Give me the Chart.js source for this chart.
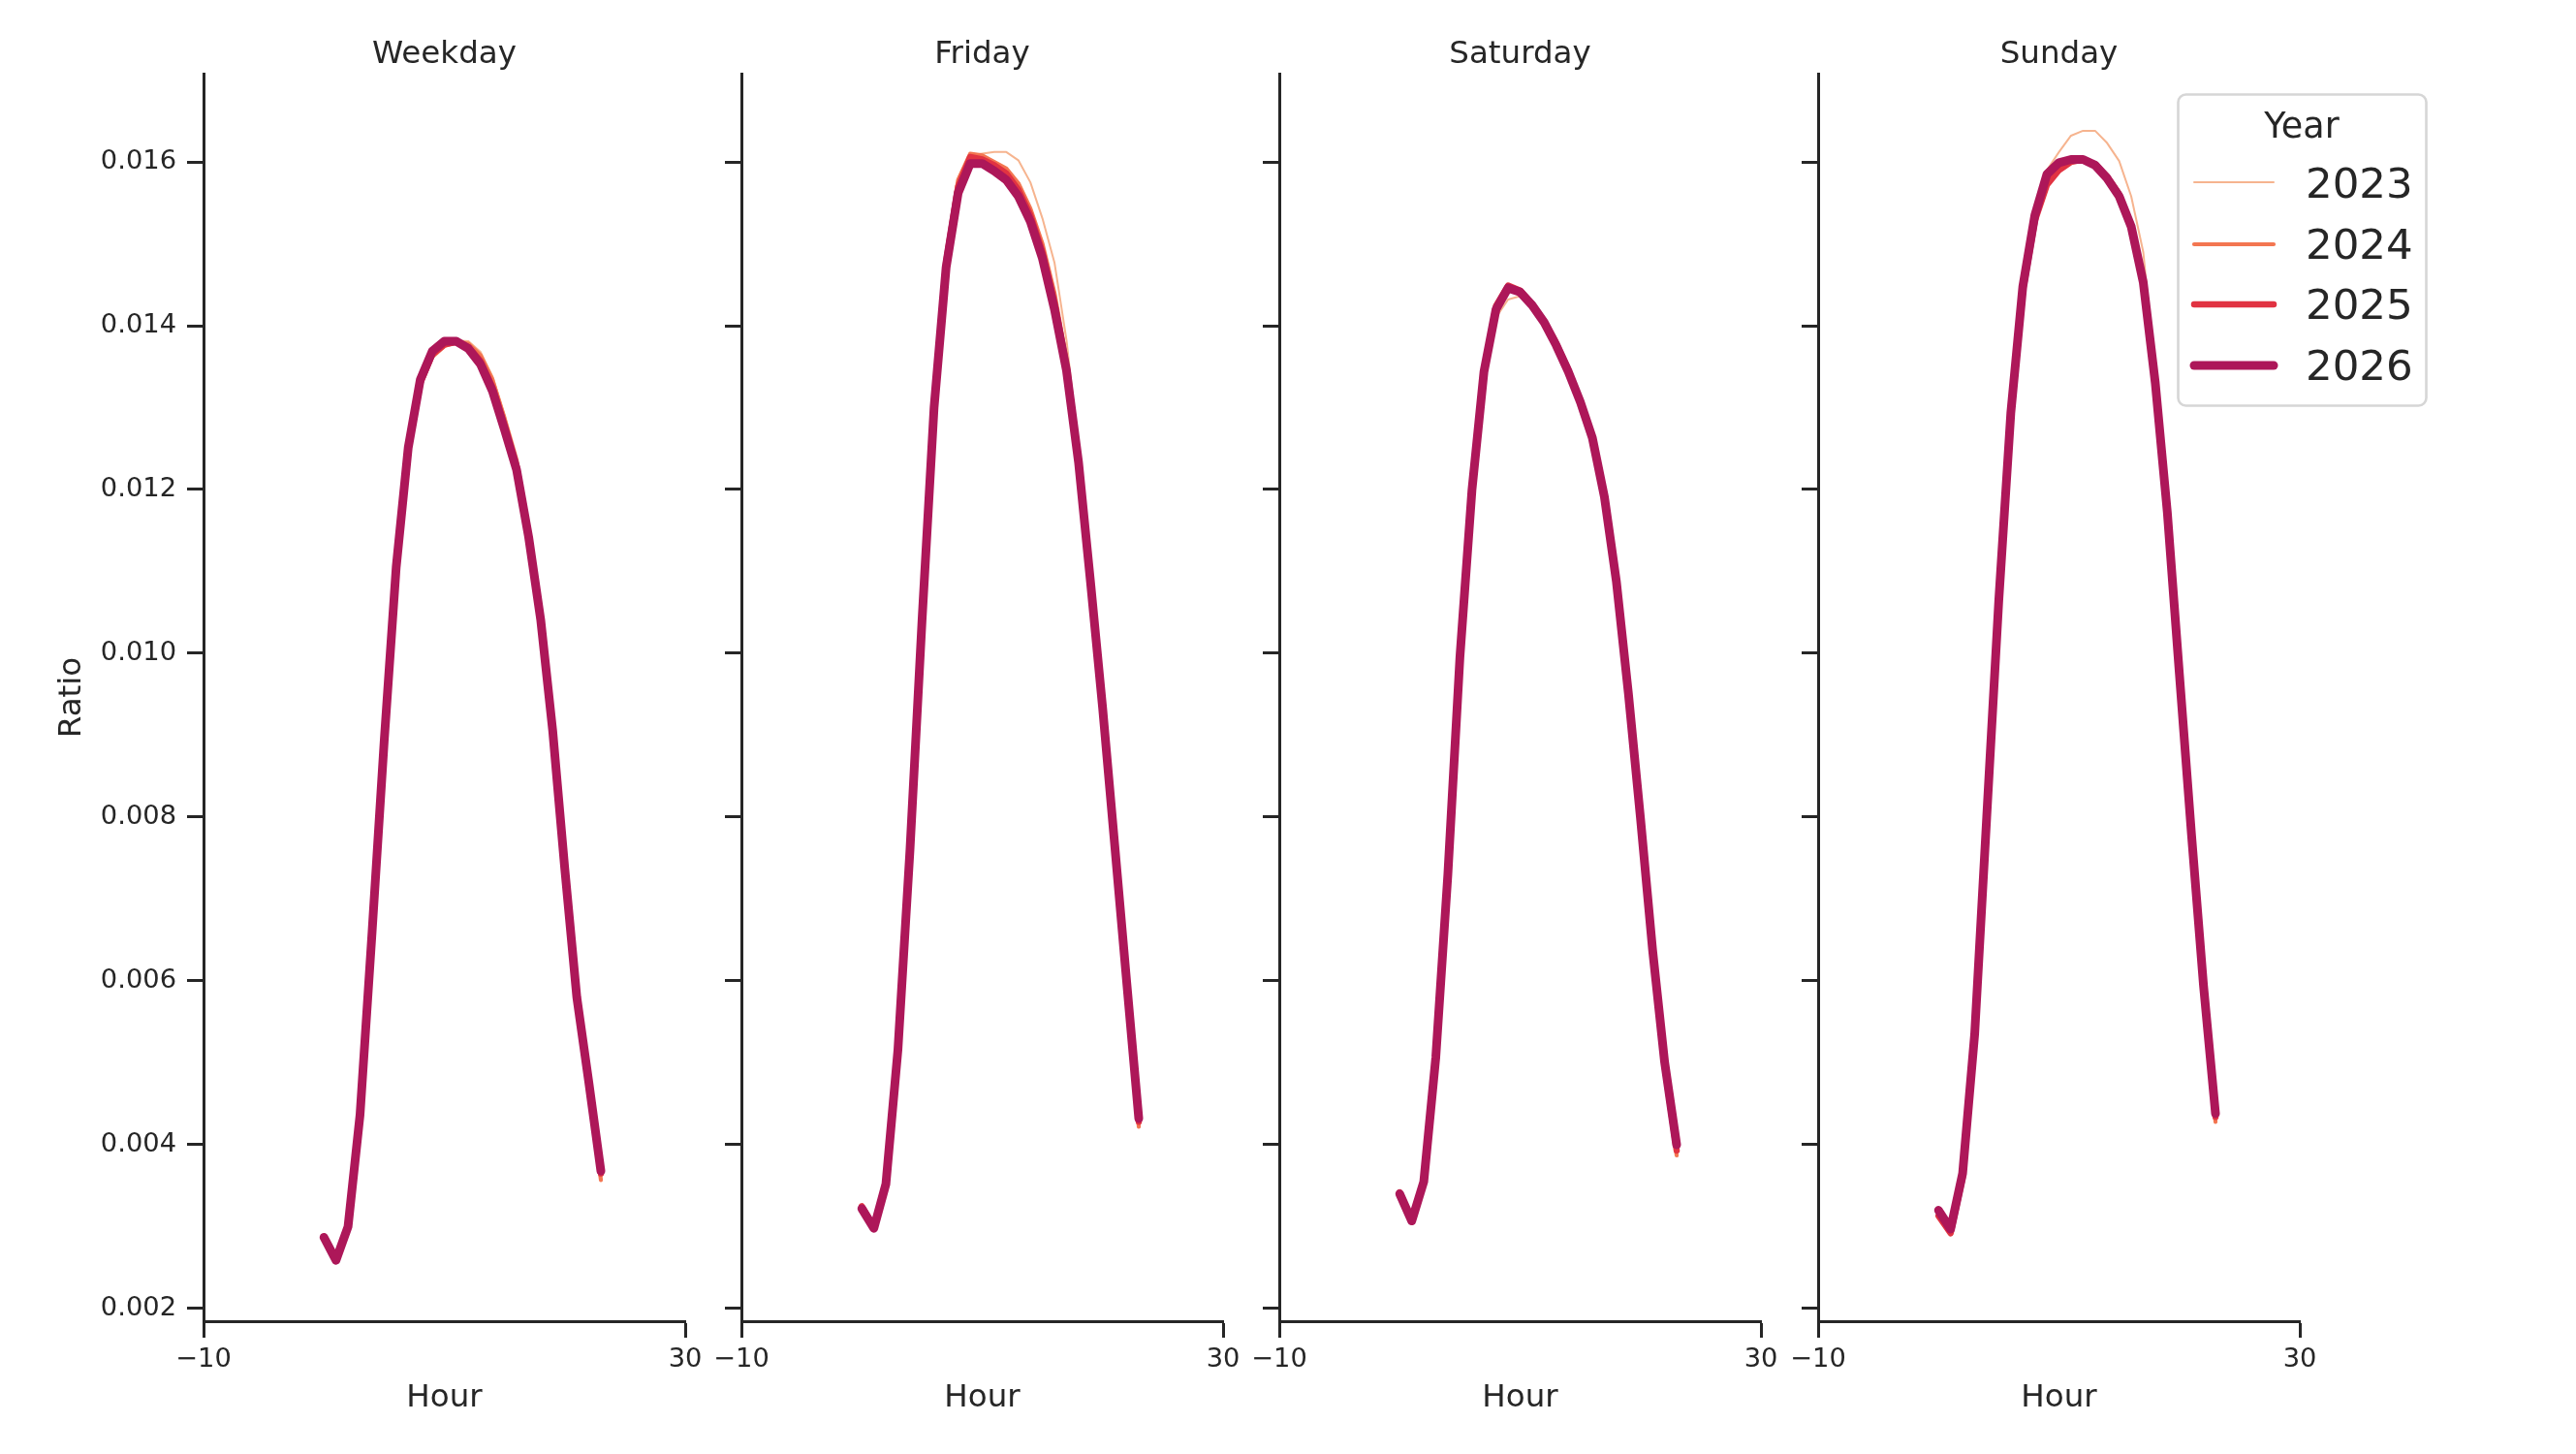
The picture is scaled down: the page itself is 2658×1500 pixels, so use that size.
<!DOCTYPE html>
<html>
<head>
<meta charset="utf-8">
<script src="https://cdn.jsdelivr.net/npm/chart.js@4.4.1/dist/chart.umd.min.js"></script>
<style>
html,body{margin:0;padding:0;background:#ffffff;}
#wrap{position:relative;width:2658px;height:1500px;overflow:hidden;background:#ffffff;}
#wrap canvas{position:absolute;left:0;top:0;}
</style>
</head>
<body>
<div id="wrap">
<canvas id="c0" width="2658" height="1500"></canvas>
<canvas id="c1" width="2658" height="1500"></canvas>
<canvas id="c2" width="2658" height="1500"></canvas>
<canvas id="c3" width="2658" height="1500"></canvas>
</div>
<script>
// ---------------- data ----------------
const hours = [0,1,2,3,4,5,6,7,8,9,10,11,12,13,14,15,16,17,18,19,20,21,22,23];
const years = ['2023','2024','2025','2026'];
const panelTitles = ['Weekday','Friday','Saturday','Sunday'];
const xTickValues = [-10, 30];
const yTickValues = [0.002,0.004,0.006,0.008,0.010,0.012,0.014,0.016];

const weekday2023 = [0.00288,0.00259,0.00301,0.00439,0.00662,0.00894,0.01104,0.01249,0.01329,0.01364,0.01377,0.01382,0.01381,0.01368,0.01338,0.01290,0.01238,0.01152,0.01046,0.00906,0.00736,0.00578,0.00472,0.00362];
const weekday2024 = [0.00289,0.00260,0.00302,0.00440,0.00663,0.00895,0.01104,0.01248,0.01328,0.01362,0.01375,0.01380,0.01378,0.01364,0.01334,0.01287,0.01236,0.01150,0.01045,0.00906,0.00735,0.00577,0.00470,0.00357];
const weekday2025 = [0.00288,0.00260,0.00301,0.00438,0.00661,0.00893,0.01104,0.01249,0.01330,0.01365,0.01377,0.01380,0.01374,0.01357,0.01325,0.01278,0.01228,0.01145,0.01042,0.00905,0.00736,0.00579,0.00474,0.00365];
const weekday2026 = [0.00287,0.00259,0.00300,0.00437,0.00660,0.00892,0.01105,0.01251,0.01334,0.01369,0.01381,0.01381,0.01372,0.01353,0.01320,0.01273,0.01224,0.01142,0.01041,0.00905,0.00737,0.00580,0.00476,0.00368];

const friday2023 = [0.00323,0.00298,0.00353,0.00520,0.00766,0.01048,0.01306,0.01478,0.01572,0.01608,0.01610,0.01612,0.01612,0.01602,0.01575,0.01531,0.01477,0.01382,0.01250,0.01092,0.00935,0.00764,0.00595,0.00428];
const friday2024 = [0.00324,0.00299,0.00354,0.00522,0.00768,0.01050,0.01310,0.01484,0.01578,0.01610,0.01608,0.01600,0.01592,0.01574,0.01543,0.01500,0.01440,0.01358,0.01240,0.01090,0.00932,0.00762,0.00592,0.00422];
const friday2025 = [0.00325,0.00300,0.00355,0.00520,0.00765,0.01045,0.01305,0.01478,0.01570,0.01606,0.01603,0.01596,0.01586,0.01566,0.01535,0.01490,0.01428,0.01350,0.01236,0.01088,0.00933,0.00765,0.00596,0.00428];
const friday2026 = [0.00322,0.00298,0.00352,0.00516,0.00760,0.01040,0.01300,0.01471,0.01562,0.01598,0.01598,0.01589,0.01578,0.01558,0.01527,0.01482,0.01420,0.01345,0.01233,0.01086,0.00933,0.00766,0.00598,0.00432];

const saturday2023 = [0.00340,0.00307,0.00355,0.00506,0.00728,0.00990,0.01192,0.01335,0.01410,0.01432,0.01436,0.01428,0.01410,0.01385,0.01352,0.01312,0.01266,0.01193,0.01088,0.00950,0.00797,0.00636,0.00499,0.00396];
const saturday2024 = [0.00341,0.00308,0.00356,0.00508,0.00730,0.00995,0.01198,0.01343,0.01420,0.01445,0.01442,0.01428,0.01408,0.01381,0.01350,0.01311,0.01266,0.01192,0.01086,0.00947,0.00793,0.00631,0.00494,0.00387];
const saturday2025 = [0.00342,0.00308,0.00356,0.00508,0.00731,0.00996,0.01200,0.01346,0.01424,0.01449,0.01443,0.01426,0.01405,0.01377,0.01345,0.01308,0.01263,0.01190,0.01085,0.00948,0.00795,0.00634,0.00497,0.00393];
const saturday2026 = [0.00340,0.00307,0.00355,0.00507,0.00730,0.00995,0.01199,0.01344,0.01420,0.01446,0.01441,0.01425,0.01404,0.01376,0.01344,0.01307,0.01263,0.01191,0.01087,0.00950,0.00798,0.00638,0.00501,0.00400];

const sunday2023 = [0.00318,0.00296,0.00362,0.00532,0.00795,0.01060,0.01290,0.01450,0.01545,0.01590,0.01612,0.01632,0.01638,0.01638,0.01623,0.01601,0.01558,0.01490,0.01340,0.01172,0.00978,0.00780,0.00593,0.00434];
const sunday2024 = [0.00316,0.00294,0.00360,0.00530,0.00795,0.01058,0.01286,0.01440,0.01528,0.01575,0.01592,0.01600,0.01602,0.01597,0.01584,0.01563,0.01526,0.01458,0.01333,0.01173,0.00975,0.00778,0.00591,0.00428];
const sunday2025 = [0.00313,0.00292,0.00360,0.00532,0.00798,0.01060,0.01288,0.01442,0.01528,0.01572,0.01590,0.01600,0.01603,0.01597,0.01582,0.01560,0.01522,0.01454,0.01330,0.01171,0.00974,0.00779,0.00594,0.00434];
const sunday2026 = [0.00320,0.00297,0.00365,0.00535,0.00800,0.01064,0.01293,0.01448,0.01535,0.01585,0.01599,0.01603,0.01603,0.01596,0.01580,0.01558,0.01521,0.01453,0.01330,0.01172,0.00975,0.00780,0.00595,0.00438];

const panelSeries = [
  [weekday2023, weekday2024, weekday2025, weekday2026],
  [friday2023, friday2024, friday2025, friday2026],
  [saturday2023, saturday2024, saturday2025, saturday2026],
  [sunday2023, sunday2024, sunday2025, sunday2026]
];

// ---------------- style ----------------
const yearColors = ['#f6b48f','#f37651','#e13342','#ad1759'];
const yearWidths = [2, 4.2, 6.5, 9];
const ink = '#262626';
const FONT = 'DejaVu Sans';
const W = 2658, H = 1500;
const areaLefts = [210, 765, 1320, 1876];
const areaWidth = 497;
const yAxisW = 210;
const xAxisH = 137;
const LABEL_SIZE = 32.5;
const TICK_SIZE = 27.3;

function fmtX(v){ return v < 0 ? '\u2212' + Math.abs(v) : String(v); }

const legendPlugin = {
  id: 'yearLegend',
  afterDraw(chart){
    if (chart.canvas.id !== 'c3') return;
    const ctx = chart.ctx;
    ctx.save();
    ctx.beginPath();
    ctx.roundRect(2247.5, 97.5, 256, 321, 8);
    ctx.fillStyle = 'rgba(255,255,255,0.8)';
    ctx.fill();
    ctx.lineWidth = 2.6;
    ctx.strokeStyle = '#d6d6d6';
    ctx.stroke();
    ctx.fillStyle = ink;
    ctx.font = '36.5px "' + FONT + '"';
    ctx.textAlign = 'center';
    ctx.textBaseline = 'alphabetic';
    ctx.fillText('Year', 2375, 142);
    const lineYs = [188, 252, 314, 377];
    const baseYs = [203.5, 267, 329, 392];
    ctx.font = '43.5px "' + FONT + '"';
    ctx.textAlign = 'left';
    years.forEach((yr, i) => {
      ctx.beginPath();
      ctx.moveTo(2264, lineYs[i]);
      ctx.lineTo(2346, lineYs[i]);
      ctx.lineCap = 'round';
      ctx.lineWidth = yearWidths[i];
      ctx.strokeStyle = yearColors[i];
      ctx.stroke();
      ctx.fillStyle = ink;
      ctx.fillText(yr, 2379, baseYs[i]);
    });
    ctx.restore();
  }
};

panelTitles.forEach((title, p) => {
  const left = areaLefts[p];
  const right = left + areaWidth;
  const datasets = years.map((yr, i) => ({
    label: yr,
    data: hours.map((h, k) => ({x: h, y: panelSeries[p][i][k]})),
    borderColor: yearColors[i],
    backgroundColor: yearColors[i],
    borderWidth: yearWidths[i],
    borderCapStyle: 'round',
    borderJoinStyle: 'round',
    pointRadius: 0,
    tension: 0,
    fill: false,
    order: years.length - 1 - i
  }));
  new Chart(document.getElementById('c' + p), {
    type: 'line',
    data: { datasets },
    plugins: [legendPlugin],
    options: {
      responsive: false,
      animation: false,
      devicePixelRatio: 1,
      events: [],
      layout: { padding: { left: left - yAxisW, right: W - right, top: 0, bottom: 0 } },
      plugins: {
        legend: { display: false },
        tooltip: { enabled: false },
        title: {
          display: true,
          text: title,
          fullSize: false,
          color: ink,
          font: { family: FONT, size: LABEL_SIZE, weight: 'normal', lineHeight: 1.2 },
          padding: { top: 37, bottom: 0 }
        }
      },
      scales: {
        x: {
          type: 'linear',
          min: -10,
          max: 30,
          afterBuildTicks(axis){ axis.ticks = xTickValues.map(v => ({value: v})); },
          afterFit(axis){ axis.height = xAxisH; },
          border: { display: true, color: ink, width: 3 },
          grid: { display: true, drawOnChartArea: false, drawTicks: true, tickLength: 17, tickWidth: 3, tickColor: ink, color: ink },
          ticks: {
            autoSkip: false, maxRotation: 0, padding: 7, color: ink,
            font: { family: FONT, size: TICK_SIZE, lineHeight: 1.2 },
            callback: v => fmtX(v)
          },
          title: {
            display: true, text: 'Hour', color: ink,
            font: { family: FONT, size: LABEL_SIZE, lineHeight: 1.2 },
            padding: { top: 0, bottom: 37.5 }
          }
        },
        y: {
          type: 'linear',
          min: 0.001846,
          max: 0.017077,
          afterBuildTicks(axis){ axis.ticks = yTickValues.map(v => ({value: v})); },
          afterFit(axis){ axis.width = yAxisW; },
          border: { display: true, color: ink, width: 3 },
          grid: { display: true, drawOnChartArea: false, drawTicks: true, tickLength: 17, tickWidth: 3, tickColor: ink, color: ink },
          ticks: {
            autoSkip: false, padding: 11, color: ink,
            font: { family: FONT, size: TICK_SIZE, lineHeight: 1.2 },
            callback: v => (p === 0 ? Number(v).toFixed(3) : '')
          },
          title: {
            display: p === 0, text: 'Ratio', color: ink,
            font: { family: FONT, size: LABEL_SIZE, lineHeight: 1.2 },
            padding: { top: 55.5, bottom: 0 }
          }
        }
      }
    }
  });
});
</script>
</body>
</html>
